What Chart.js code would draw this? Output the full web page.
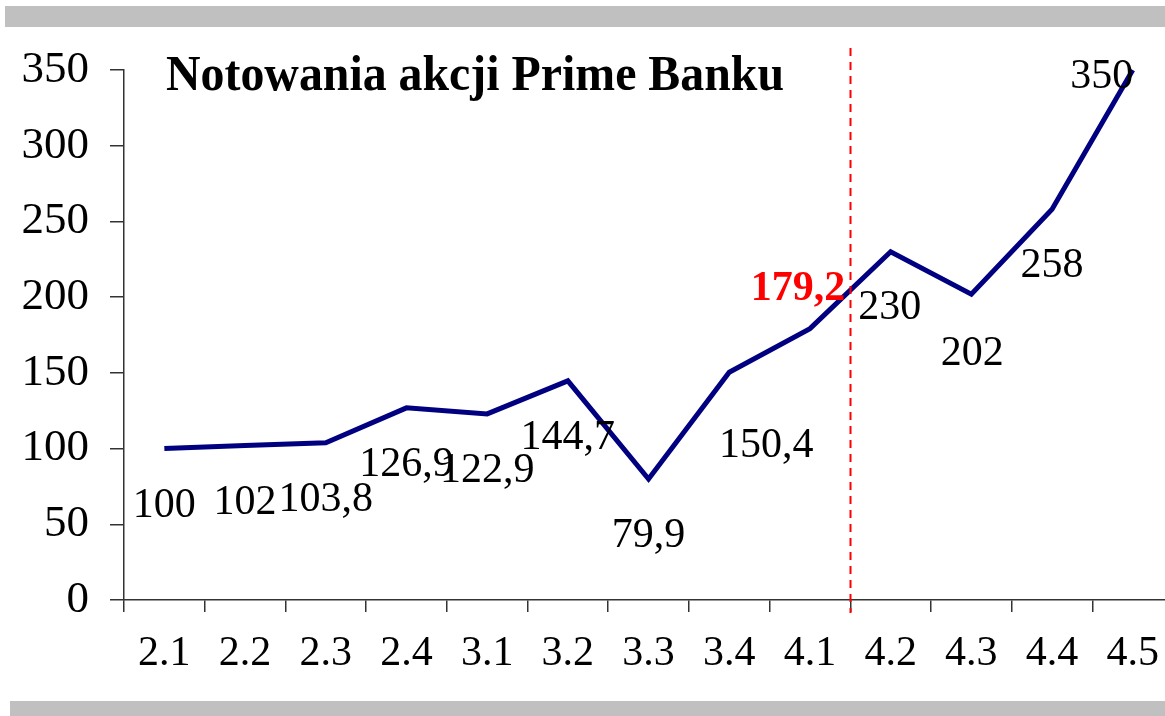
<!DOCTYPE html>
<html>
<head>
<meta charset="utf-8">
<script src="https://cdn.jsdelivr.net/npm/chart.js@4"></script>
<style>
  html, body { margin: 0; padding: 0; background: #fff; overflow: hidden; width: 1165px; height: 716px; }
  .bar { position: absolute; background: #c0c0c0; }
  #wrap { position: absolute; left: 0; top: 0; width: 1176px; height: 716px; }
</style>
</head>
<body>
<div class="bar" style="left:5px; top:6px; width:1160px; height:21px;"></div>
<div class="bar" style="left:10px; top:701px; width:1155px; height:15px;"></div>
<div id="wrap"><canvas id="chart" width="1176" height="716"></canvas></div>
<script>
const categories = ["2.1", "2.2", "2.3", "2.4", "3.1", "3.2", "3.3", "3.4", "4.1", "4.2", "4.3", "4.4", "4.5"];
const prices = [100, 102, 103.8, 126.9, 122.9, 144.7, 79.9, 150.4, 179.2, 230, 202, 258, 350];
const yTicks = [0, 50, 100, 150, 200, 250, 300, 350];
const highlightIndex = 8;
const titleText = "Notowania akcji Prime Banku";

const FONT = "'Liberation Serif', 'Times New Roman', serif";

// label placement, mostly under the point
const labelOffsets = {
    default: [0, 68],
    7: [37, 85],
    8: [-12, -29],
    9: [-1, 67],
    10: [1, 71],
    12: [-31, 18]
};

const extras = {
    id: "extras",
    afterDatasetsDraw(chart) {
        const ctx = chart.ctx;
        const x = chart.scales.x;
        const meta = chart.getDatasetMeta(0);

        // dashed divider between 4.1 and 4.2
        const xd = Math.round((x.getPixelForValue(highlightIndex) + x.getPixelForValue(highlightIndex + 1)) / 2) + 0.5;
        ctx.save();
        ctx.strokeStyle = "#ff0000";
        ctx.lineWidth = 2;
        ctx.setLineDash([8, 6]);
        ctx.beginPath();
        ctx.moveTo(xd, 48);
        ctx.lineTo(xd, 613);
        ctx.stroke();
        ctx.restore();

        // value labels
        ctx.save();
        ctx.textAlign = "center";
        ctx.textBaseline = "alphabetic";
        meta.data.forEach((pt, i) => {
            const off = labelOffsets[i] || labelOffsets.default;
            const txt = String(prices[i]).replace(".", ",");
            if (i === highlightIndex) {
                ctx.fillStyle = "#ff0000";
                ctx.font = "bold 42px " + FONT;
            } else {
                ctx.fillStyle = "#000";
                ctx.font = "42px " + FONT;
            }
            ctx.fillText(txt, pt.x + off[0], pt.y + off[1]);
        });

        // title, slightly condensed
        ctx.font = "bold 50px " + FONT;
        ctx.fillStyle = "#000";
        ctx.textAlign = "left";
        const w = ctx.measureText(titleText).width;
        const sx = Math.min(1, 618 / w);
        ctx.translate(166, 90);
        ctx.scale(sx, 1);
        ctx.fillText(titleText, 0, 0);
        ctx.restore();
    }
};

new Chart(document.getElementById("chart"), {
    type: "line",
    data: {
        labels: categories,
        datasets: [{
            data: prices,
            borderColor: "#000080",
            borderWidth: 5,
            pointRadius: 0,
            tension: 0,
            fill: false,
            clip: false
        }]
    },
    options: {
        responsive: false,
        animation: false,
        layout: { padding: { top: 70, right: 0, left: 0, bottom: 0 } },
        plugins: { legend: { display: false }, tooltip: { enabled: false }, title: { display: false } },
        scales: {
            x: {
                offset: true,
                grid: { offset: true, drawOnChartArea: false, drawTicks: true, tickLength: 12, color: "#333", lineWidth: 1.5 },
                border: { color: "#333", width: 1.5 },
                ticks: { color: "#000", font: { family: FONT, size: 42 }, padding: 17, maxRotation: 0, autoSkip: false },
                afterFit(scale) { scale.height = 116; }
            },
            y: {
                min: 0,
                max: 350,
                afterBuildTicks(scale) { scale.ticks = yTicks.map(v => ({ value: v })); },
                grid: { drawOnChartArea: false, tickLength: 14, color: "#333", lineWidth: 1.5 },
                border: { color: "#333", width: 1.5 },
                ticks: { color: "#000", font: { family: FONT, size: 45 }, padding: 21 },
                afterFit(scale) { scale.width = 124; }
            }
        }
    },
    plugins: [extras]
});
</script>
</body>
</html>
